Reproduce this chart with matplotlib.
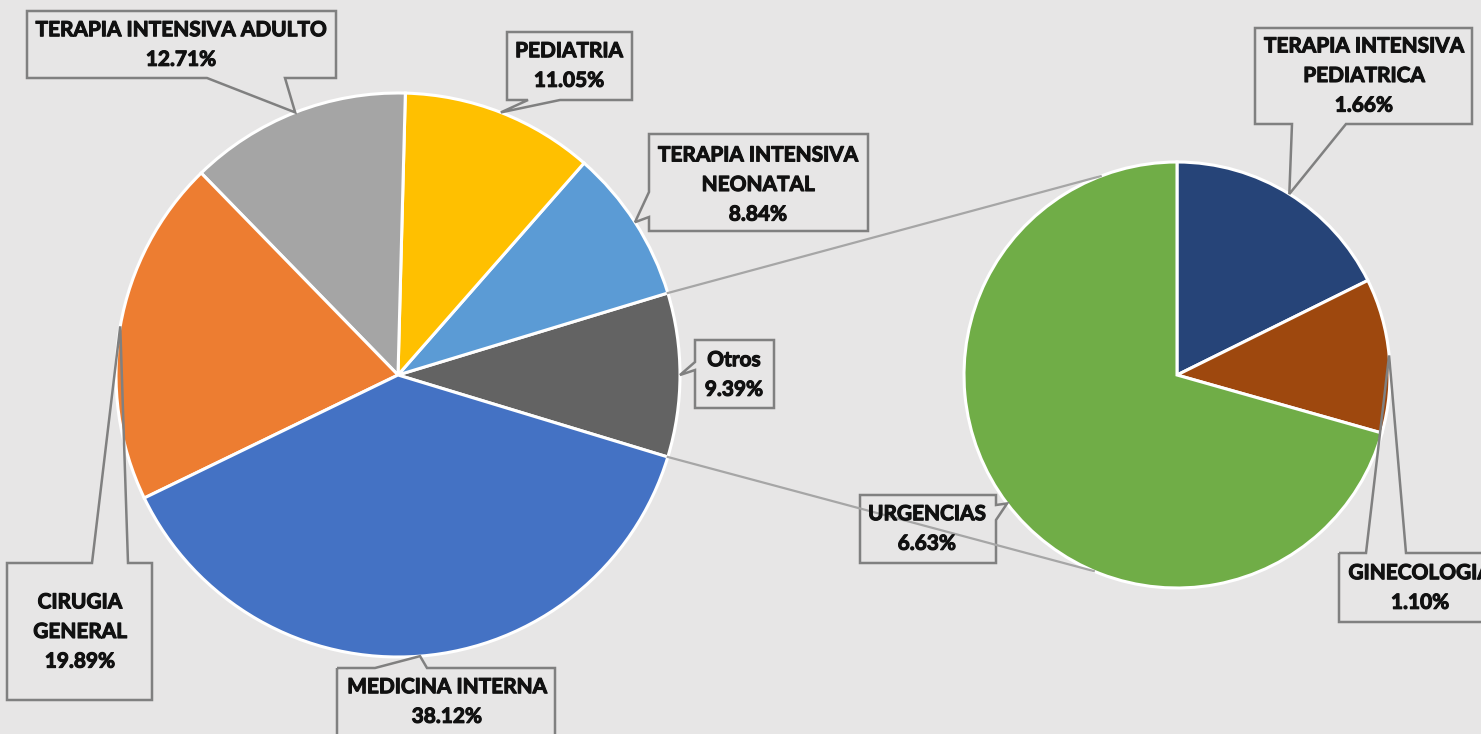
import numpy as np
import matplotlib
matplotlib.use("Agg")
import matplotlib.pyplot as plt
import matplotlib.patheffects as pe
from matplotlib.patches import Polygon

# data (percent of total)
main_labels = ["Otros", "TERAPIA INTENSIVA\nNEONATAL", "PEDIATRIA",
               "TERAPIA INTENSIVA ADULTO", "CIRUGIA\nGENERAL", "MEDICINA INTERNA"]
main_values = [9.39, 8.84, 11.05, 12.71, 19.89, 38.12]
main_colors = ["#636363", "#5B9BD5", "#FFC000", "#A5A5A5", "#ED7D31", "#4472C4"]

sub_labels = ["TERAPIA INTENSIVA\nPEDIATRICA", "GINECOLOGIA", "URGENCIAS"]
sub_values = [1.66, 1.10, 6.63]
sub_colors = ["#264478", "#9E480E", "#70AD47"]

W, H = 1481, 734
BG = "#E7E6E6"
EDGE = "#808080"

# callout layout in pixels (y down): box, wedge side, wedge base, text centre
callouts = {
    "TERAPIA INTENSIVA ADULTO": ((27, 11, 336, 78), "bottom", (207, 285), (181, 45)),
    "PEDIATRIA": ((507, 32, 632, 100), "bottom", (528, 560), (569, 66)),
    "TERAPIA INTENSIVA\nNEONATAL": ((649, 134, 868, 231), "left", (192, 217), (758, 185)),
    "Otros": ((695, 340, 774, 408), "left", (362, 370), (734, 375)),
    "CIRUGIA\nGENERAL": ((7, 563, 152, 700), "top", (92, 128), (80, 632)),
    "MEDICINA INTERNA": ((337, 668, 555, 760), "top", (375, 427), (447, 702)),
    "TERAPIA INTENSIVA\nPEDIATRICA": ((1255, 28, 1472, 124), "bottom", (1292, 1346), (1364, 76)),
    "GINECOLOGIA": ((1339, 553, 1501, 622), "top", (1366, 1406), (1420, 588)),
    "URGENCIAS": ((860, 495, 996, 563), "right", (505, 520), (927, 529)),
}


def Y(y):
    return H - y


def callout(ax, box, side, base, tip):
    x0, y0, x1, y1 = box
    a, b = base
    tx, ty = tip
    pts = [(x0, y0)]
    if side == "top":
        pts += [(a, y0), (tx, ty), (b, y0)]
    pts += [(x1, y0)]
    if side == "right":
        pts += [(x1, a), (tx, ty), (x1, b)]
    pts += [(x1, y1)]
    if side == "bottom":
        pts += [(b, y1), (tx, ty), (a, y1)]
    pts += [(x0, y1)]
    if side == "left":
        pts += [(x0, b), (tx, ty), (x0, a)]
    pts = [(x, Y(y)) for x, y in pts]
    ax.add_patch(Polygon(pts, closed=True, facecolor="none", edgecolor=EDGE,
                         linewidth=1.8, zorder=5))


fig = plt.figure(figsize=(W / 100, H / 100), dpi=100, facecolor=BG)
ax = fig.add_axes([0, 0, 1, 1])
ax.set_facecolor(BG)

c1, r1 = (398, Y(375)), 282
c2, r2 = (1177, Y(375)), 213

w1, _ = ax.pie(main_values, colors=main_colors, startangle=-main_values[0] / 100 * 180,
               counterclock=True, center=c1, radius=r1,
               wedgeprops=dict(edgecolor="white", linewidth=2.2))
w2, _ = ax.pie(sub_values, colors=sub_colors, startangle=90, counterclock=False,
               center=c2, radius=r2,
               wedgeprops=dict(edgecolor="white", linewidth=2.2))

ax.set_xlim(0, W)
ax.set_ylim(0, H)
ax.set_aspect("equal")
ax.axis("off")

# connector lines between the pies
o = w1[0]
for ang1, ang2 in [(o.theta2, 111), (o.theta1, -113)]:
    p1 = (c1[0] + r1 * np.cos(np.radians(ang1)), c1[1] + r1 * np.sin(np.radians(ang1)))
    p2 = (c2[0] + r2 * np.cos(np.radians(ang2)), c2[1] + r2 * np.sin(np.radians(ang2)))
    ax.plot([p1[0], p2[0]], [p1[1], p2[1]], color="#A6A6A6", lw=1.6, zorder=6)

bold = [pe.withStroke(linewidth=0.8, foreground="#111111")]
for wedges, labels, values in [(w1, main_labels, main_values), (w2, sub_labels, sub_values)]:
    for w, lab, val in zip(wedges, labels, values):
        box, side, base, tc = callouts[lab]
        mid = np.radians((w.theta1 + w.theta2) / 2)
        tip = (w.center[0] + w.r * np.cos(mid), H - (w.center[1] + w.r * np.sin(mid)))
        callout(ax, box, side, base, tip)
        ax.text(tc[0], Y(tc[1]), f"{lab}\n{val:.2f}%", ha="center", va="center",
                fontsize=15, fontweight="bold", family="Lato", color="#111111",
                linespacing=1.6, zorder=7, path_effects=bold)

fig.savefig("out.png", dpi=100, facecolor=BG)
